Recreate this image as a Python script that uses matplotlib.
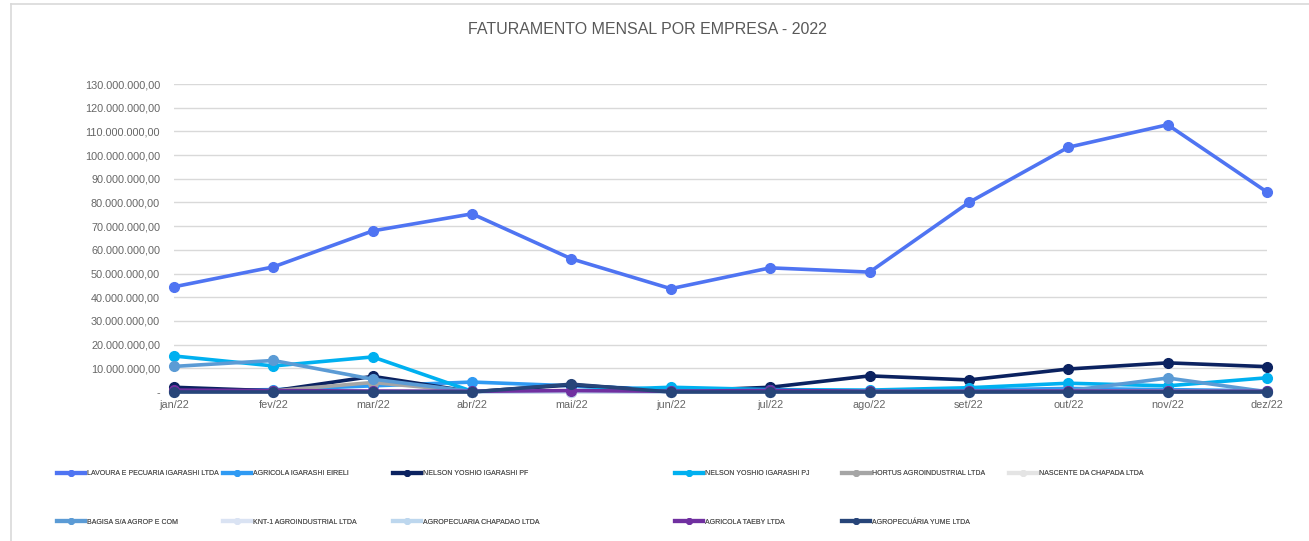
import matplotlib.pyplot as plt
from matplotlib.lines import Line2D
from matplotlib.ticker import FuncFormatter

plt.rcParams["font.family"] = ["Liberation Sans", "DejaVu Sans"]

# months
meses = ["jan/22", "fev/22", "mar/22", "abr/22", "mai/22", "jun/22",
         "jul/22", "ago/22", "set/22", "out/22", "nov/22", "dez/22"]

# monthly revenue per company (R$)
lavoura = [44.4e6, 52.8e6, 68.0e6, 75.2e6, 56.2e6, 43.6e6,
           52.4e6, 50.6e6, 80.0e6, 103.3e6, 112.8e6, 84.4e6]
agricola_eireli = [0.5e6, 1.0e6, 2.6e6, 4.2e6, 2.6e6, 1.0e6,
                   0.8e6, 0.5e6, 0.8e6, 1.5e6, 1.0e6, 0.5e6]
nelson_pf = [2.0e6, 0.5e6, 6.6e6, 0.1e6, 3.0e6, 0.3e6,
             2.0e6, 6.8e6, 5.1e6, 9.7e6, 12.3e6, 10.7e6]
nelson_pj = [15.2e6, 11.0e6, 14.8e6, 0.3e6, 0.5e6, 2.0e6,
             1.0e6, 0.8e6, 1.8e6, 3.7e6, 2.6e6, 6.0e6]
hortus = [0.3e6, 0.5e6, 4.0e6, 0.2e6, 0.2e6, 0.2e6,
          0.2e6, 0.2e6, 0.2e6, 0.3e6, 0.3e6, 0.2e6]
nascente = [0.1e6] * 12
bagisa = [10.8e6, 13.3e6, 5.4e6, 0.2e6, 0.3e6, 0.2e6,
          0.2e6, 0.2e6, 0.3e6, 0.5e6, 5.9e6, 0.1e6]
knt1 = [0.1e6] * 12
chapadao = [0.2e6, 0.2e6, 0.2e6, 0.1e6, 0.2e6, 0.1e6,
            0.1e6, 0.1e6, 0.1e6, 0.2e6, 0.2e6, 0.1e6]
taeby = [0.8e6, 0.6e6, 0.4e6, 0.3e6, 0.6e6, 0.3e6,
         0.7e6, 0.3e6, 0.3e6, 0.4e6, 0.3e6, 0.3e6]
yume = [0.0, 0.0, 0.0, 0.0, 3.3e6, 0.0,
        0.0, 0.0, 0.0, 0.0, 0.0, 0.0]

empresas = ["LAVOURA E PECUARIA IGARASHI LTDA", "AGRICOLA IGARASHI EIRELI",
            "NELSON YOSHIO IGARASHI PF", "NELSON YOSHIO IGARASHI PJ",
            "HORTUS AGROINDUSTRIAL LTDA", "NASCENTE DA CHAPADA LTDA",
            "BAGISA S/A AGROP E COM", "KNT-1 AGROINDUSTRIAL LTDA",
            "AGROPECUARIA CHAPADAO LTDA", "AGRICOLA TAEBY LTDA",
            "AGROPECUÁRIA YUME LTDA"]
series = [lavoura, agricola_eireli, nelson_pf, nelson_pj, hortus, nascente,
          bagisa, knt1, chapadao, taeby, yume]
cores = ["#4F74F2", "#2F9AF3", "#0B2260", "#00B0F0", "#A5A5A5", "#E4E4E4",
         "#5B9BD5", "#DAE3F3", "#BDD7EE", "#7030A0", "#274579"]

fig = plt.figure(figsize=(13.09, 5.41), dpi=100)
ax = fig.add_axes([174 / 1309, 1 - 392 / 541, (1267 - 174) / 1309, (392 - 84) / 541])

x = list(range(len(meses)))
for nome, vals, cor in zip(empresas, series, cores):
    ax.plot(x, vals, color=cor, lw=2.6, marker="o", ms=7, label=nome,
            clip_on=False, solid_joinstyle="round")


def fmt(v, pos):
    if v == 0:
        return "-"
    s = f"{v:,.2f}"
    return s.replace(",", "X").replace(".", ",").replace("X", ".")


ax.set_xlim(0, 11)
ax.set_ylim(0, 130e6)
ax.set_yticks([i * 10e6 for i in range(14)])
ax.yaxis.set_major_formatter(FuncFormatter(fmt))
ax.set_xticks(x)
ax.set_xticklabels(meses)
ax.tick_params(length=0, labelsize=7.8, labelcolor="#666666")
ax.tick_params(axis="y", pad=10)
ax.tick_params(axis="x", pad=6)
ax.grid(axis="y", color="#D9D9D9", lw=1)
ax.set_axisbelow(True)
for s in ax.spines.values():
    s.set_visible(False)
ax.axhline(0, color="#D9D9D9", lw=1, zorder=0)

fig.text(647 / 1309, 1 - 30 / 541, "FATURAMENTO MENSAL POR EMPRESA - 2022",
         ha="center", va="center", fontsize=11.5, color="#595959")

# chart border (top and left only)
fig.add_artist(Line2D([11 / 1309, 1], [1 - 4 / 541, 1 - 4 / 541], color="#D9D9D9", lw=1.2))
fig.add_artist(Line2D([11 / 1309, 11 / 1309], [0, 1 - 4 / 541], color="#D9D9D9", lw=1.2))

# legend, laid out in columns like the original
handles, labels = ax.get_legend_handles_labels()
col_x = [57, 223, 393, 675, 842, 1009]
for c, cx in enumerate(col_x):
    idx = [i for i in (c, c + 6) if i < len(handles)]
    hs = [Line2D([], [], color=cores[i], lw=3, marker="o", ms=4) for i in idx]
    leg = fig.legend(hs, [labels[i] for i in idx], loc="upper left",
                     bbox_to_anchor=(cx / 1309, 1 - 470 / 541),
                     frameon=False, fontsize=5.0, labelcolor="#595959",
                     handlelength=4.0, handletextpad=0.3, labelspacing=6.0,
                     borderaxespad=0, borderpad=0)
    fig.add_artist(leg)

fig.savefig("out.png", dpi=100)
